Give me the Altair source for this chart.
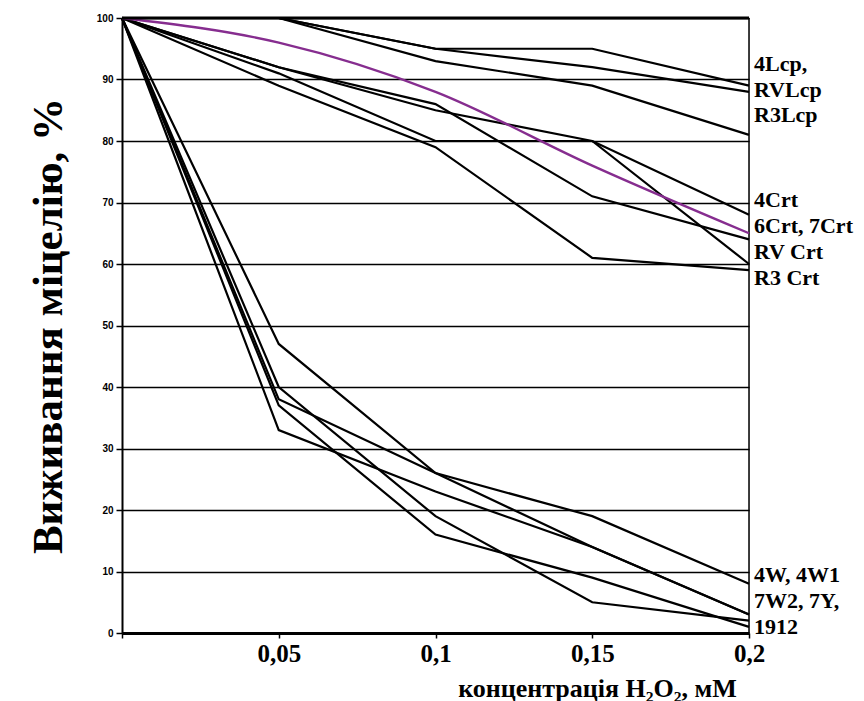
import altair as alt
import pandas as pd

# concentration of H2O2, mM
x_vals = [0, 0.05, 0.1, 0.15, 0.2]

# survival of mycelium, % (black lines)
lcp_a = [100, 100, 95, 95, 89]
lcp_b = [100, 100, 95, 92, 88]
lcp_c = [100, 100, 93, 89, 81]
crt_a = [100, 92, 86, 71, 64]
crt_b = [100, 92, 85, 80, 68]
crt_c = [100, 91, 80, 80, 60]
crt_r3 = [100, 89, 79, 61, 59]
w_a = [100, 47, 26, 19, 8]
w_b = [100, 38, 26, 14, 3]
w_c = [100, 33, 23, 14, 3]
w_d = [100, 40, 19, 5, 2]
w_e = [100, 37, 16, 9, 1]
# purple line
crt_purple = [100, 96, 88, 76, 65]

black_series = {
    "lcp_a": lcp_a, "lcp_b": lcp_b, "lcp_c": lcp_c,
    "crt_a": crt_a, "crt_b": crt_b, "crt_c": crt_c, "crt_r3": crt_r3,
    "w_a": w_a, "w_b": w_b, "w_c": w_c, "w_d": w_d, "w_e": w_e,
}

# strain labels on the right and the value they sit at
label_texts = ["4Lcp,", "RVLcp", "R3Lcp", "4Crt", "6Crt, 7Crt", "RV Crt", "R3 Crt",
               "4W,  4W1", "7W2, 7Y,", "1912"]
label_at = [92.5, 88.3, 84.2, 70.4, 66.2, 62.0, 57.7, 9.5, 5.2, 1.0]

y_ticks = list(range(0, 101, 10))
x_ticks = [0, 0.05, 0.1, 0.15, 0.2]

rows = []
for name, ys in black_series.items():
    for xv, yv in zip(x_vals, ys):
        rows.append({"x": xv, "y": yv, "series": name})
df_black = pd.DataFrame(rows)
df_purple = pd.DataFrame({"x": x_vals, "y": crt_purple})
df_labels = pd.DataFrame({"x": [x_vals[-1]] * len(label_texts), "y": label_at, "text": label_texts})

SERIF = "Liberation Serif, Times New Roman, serif"

x_scale = alt.Scale(domain=[0, 0.2], nice=False, zero=False)
y_scale = alt.Scale(domain=[0, 100], nice=False)

x_axis = alt.Axis(
    values=x_ticks,
    labelExpr="datum.value == 0 ? '' : replace(format(datum.value, '.2~f'), '.', ',')",
    labelFont=SERIF, labelFontWeight="bold", labelFontSize=25, labelColor="black",
    labelPadding=3, labelOverlap=False, labelFlush=False,
    domainColor="black", domainWidth=3, tickColor="black", tickWidth=1.5, tickSize=5,
    grid=False,
    title="концентрація H₂O₂, мМ",
    titleFont=SERIF, titleFontWeight="bold", titleFontSize=26, titleColor="black",
    titleX=475, titleY=63, titleAlign="center", titleBaseline="alphabetic",
)
y_axis = alt.Axis(
    values=y_ticks,
    labelFont="Liberation Sans Narrow, Liberation Sans, Arial Narrow, sans-serif",
    labelFontWeight="bold", labelFontSize=10, labelColor="black", labelPadding=3,
    domainColor="black", domainWidth=2, tickColor="black", tickWidth=1.5, tickSize=6,
    grid=True, gridColor="black", gridWidth=1.5, gridOpacity=1,
    title="Виживання міцелію, %",
    titleFont=SERIF, titleFontWeight="bold", titleFontSize=43, titleColor="black",
    titlePadding=26,
)

black_lines = alt.Chart(df_black).mark_line(color="black", strokeWidth=2.2).encode(
    x=alt.X("x:Q", scale=x_scale, axis=x_axis),
    y=alt.Y("y:Q", scale=y_scale, axis=y_axis),
    detail="series:N",
)

purple_line = alt.Chart(df_purple).mark_line(
    color="#862d8f", strokeWidth=2.4, interpolate="monotone"
).encode(x=alt.X("x:Q", scale=x_scale), y=alt.Y("y:Q", scale=y_scale))

top_border = alt.Chart(pd.DataFrame({"v": [100]})).mark_rule(color="black", strokeWidth=3).encode(
    y=alt.Y("v:Q", scale=y_scale)
)
right_border = alt.Chart(pd.DataFrame({"v": [0.2]})).mark_rule(color="black", strokeWidth=1.5).encode(
    x=alt.X("v:Q", scale=x_scale)
)

labels = alt.Chart(df_labels).mark_text(
    align="left", baseline="middle", dx=5, font=SERIF, fontWeight="bold",
    fontSize=22, color="black"
).encode(
    x=alt.X("x:Q", scale=x_scale), y=alt.Y("y:Q", scale=y_scale), text="text:N"
)

chart = alt.layer(right_border, black_lines, purple_line, top_border, labels).properties(
    width=627, height=615,
    autosize=alt.AutoSizeParams(type="none"),
    padding={"left": 114, "top": 10, "right": 107, "bottom": 70},
).configure_view(stroke=None).configure(background="white")

chart.save("out.html", embed_options={"renderer": "svg", "actions": False})
